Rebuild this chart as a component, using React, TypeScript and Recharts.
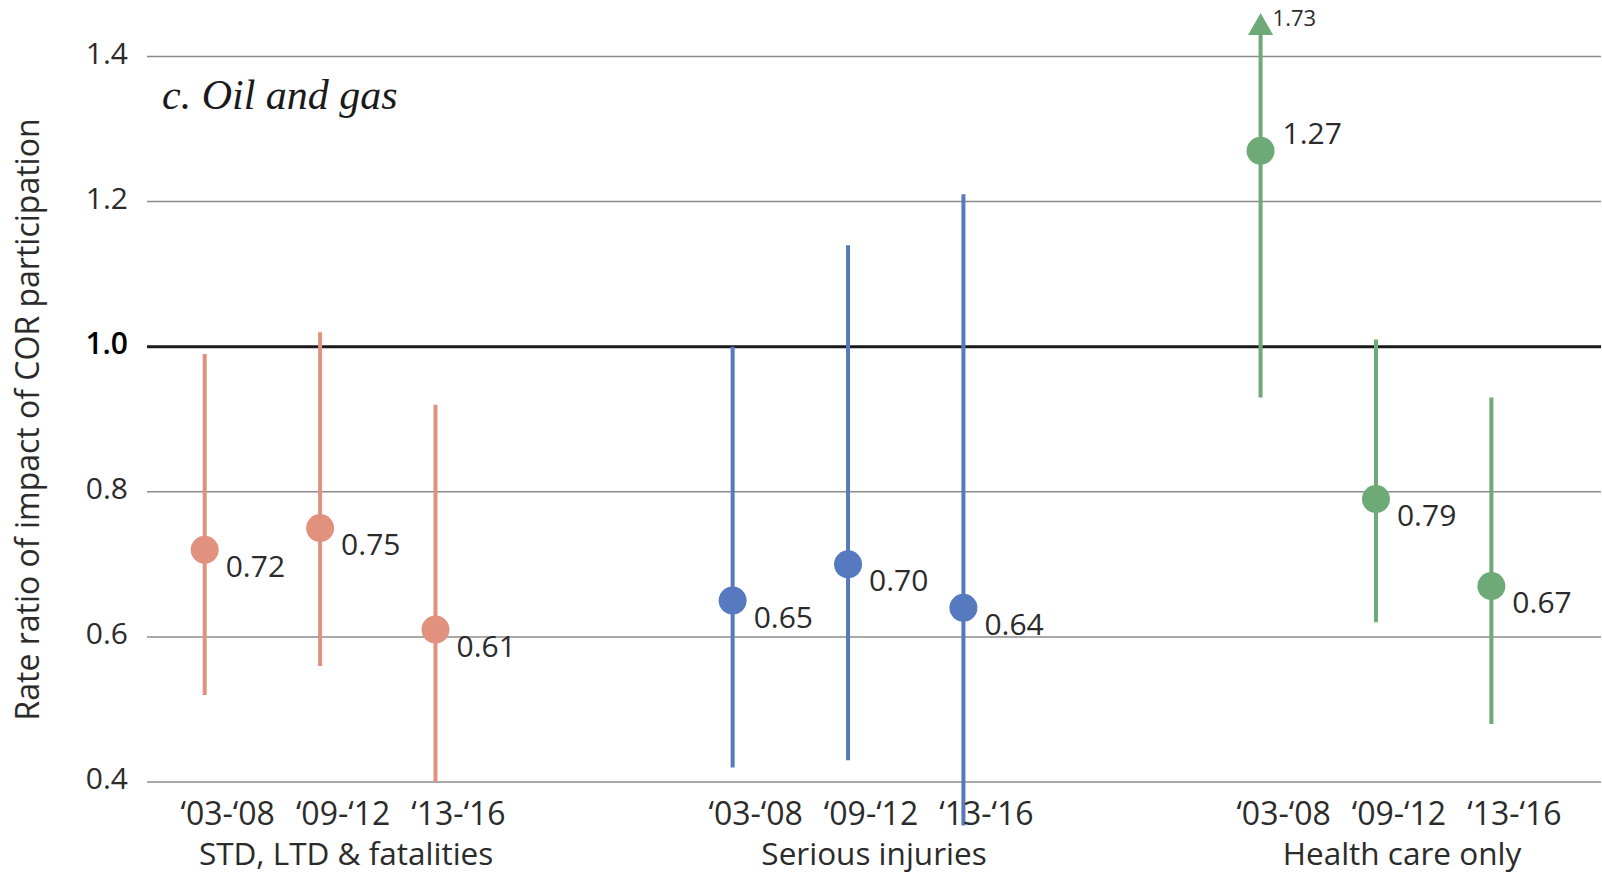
import {
  ComposedChart,
  Scatter,
  ErrorBar,
  XAxis,
  YAxis,
  CartesianGrid,
  ReferenceLine,
  ReferenceDot,
} from "recharts";

// Periods on the x axis and the three outcome groups
const periods = ["‘03-‘08", "‘09-‘12", "‘13-‘16"];
const outcomes = ["STD, LTD & fatalities", "Serious injuries", "Health care only"];

// Rate ratios with 95% CI bounds, one entry per period
const stdRate = [0.72, 0.75, 0.61];
const stdLow = [0.52, 0.56, 0.4];
const stdHigh = [0.99, 1.02, 0.92];

const seriousRate = [0.65, 0.7, 0.64];
const seriousLow = [0.42, 0.43, 0.34];
const seriousHigh = [1.0, 1.14, 1.21];

const healthRate = [1.27, 0.79, 0.67];
const healthLow = [0.93, 0.62, 0.48];
const healthHigh = [1.73, 1.01, 0.93];

const yTicks = [0.4, 0.6, 0.8, 1.0, 1.2, 1.4];

// axis extents: a bit of room below 0.4 and above 1.4 for long intervals
const Y_MIN = 0.32;
const Y_MAX = 1.46;
const GROUP_STEP = 4.575;
const X_MAX = 12.6;

const FONT = '"Open Sans", "Noto Sans", sans-serif';
const TEXT = "#2b2b2b";
const colors = ["#E2917F", "#5679BF", "#6DAA77"];

type Point = {
  x: number;
  rate: number;
  low: number;
  high: number;
  err: [number, number];
  offScale: boolean;
};

function buildSeries(group: number, rate: number[], low: number[], high: number[]): Point[] {
  return rate.map((r, i) => {
    // intervals running past the top of the axis stop at the arrowhead
    const top = Math.min(high[i], Y_MAX - 0.01);
    return {
      x: group * GROUP_STEP + i + 0.5,
      rate: r,
      low: low[i],
      high: high[i],
      err: [r - low[i], top - r],
      offScale: high[i] > Y_MAX,
    };
  });
}

const stdData = buildSeries(0, stdRate, stdLow, stdHigh);
const seriousData = buildSeries(1, seriousRate, seriousLow, seriousHigh);
const healthData = buildSeries(2, healthRate, healthLow, healthHigh);
const allPoints = [...stdData, ...seriousData, ...healthData];
const offScalePoints = allPoints.filter((d) => d.offScale);

function RateDot(props: any) {
  const { cx, cy, payload, fill } = props;
  const above = payload.offScale;
  return (
    <g>
      <circle cx={cx} cy={cy} r={14} fill={fill} />
      <text
        x={cx + (above ? 22 : 21)}
        y={cy + (above ? -7 : 27)}
        fontSize={30}
        fontFamily={FONT}
        fill={TEXT}
      >
        {payload.rate.toFixed(2)}
      </text>
    </g>
  );
}

function OffScaleArrow(props: any) {
  const { cx, cy, fill, payload } = props;
  return (
    <g>
      <path d={`M${cx},${cy} L${cx - 12.5},${cy + 22} L${cx + 12.5},${cy + 22} Z`} fill={fill} />
      <text x={cx + 12} y={cy + 13} fontSize={22} fontFamily={FONT} fill={TEXT}>
        {payload.toFixed(2)}
      </text>
    </g>
  );
}

function YTick(props: any) {
  const { x, y, payload } = props;
  const isRef = payload.value === 1;
  return (
    <text
      x={x}
      y={y + 7}
      textAnchor="end"
      fontSize={30}
      fontFamily={FONT}
      fontWeight={isRef ? 600 : 400}
      fill={isRef ? "#000" : TEXT}
    >
      {payload.value.toFixed(1)}
    </text>
  );
}

function XTick(props: any) {
  const { x, y, index } = props;
  const p = index % 3;
  const g = Math.floor(index / 3);
  return (
    <g>
      <text x={x + 23} y={y - 15} textAnchor="middle" fontSize={32} fontFamily={FONT} fill={TEXT}>
        {periods[p]}
      </text>
      {p === 1 && (
        <text x={x + 26} y={y + 25} textAnchor="middle" fontSize={31.5} fontFamily={FONT} fill={TEXT}>
          {outcomes[g]}
        </text>
      )}
    </g>
  );
}

function YTitle(props: any) {
  const { viewBox } = props;
  const bx = viewBox.x + 39;
  const cy = viewBox.y + viewBox.height / 2 - 7;
  return (
    <text
      x={bx}
      y={cy}
      transform={`rotate(-90, ${bx}, ${cy})`}
      textAnchor="middle"
      fontSize={32}
      fontFamily={FONT}
      fill={TEXT}
    >
      Rate ratio of impact of COR participation
    </text>
  );
}

export default function App() {
  return (
    <div style={{ position: "absolute", left: 0, top: 0, background: "#fff" }}>
      <ComposedChart
        width={1602}
        height={876}
        margin={{ top: 13, right: 1, bottom: 0, left: 0 }}
      >
        <CartesianGrid vertical={false} syncWithTicks stroke="#8c8c8c" strokeWidth={1.5} />
        <XAxis
          type="number"
          dataKey="x"
          domain={[0, X_MAX]}
          ticks={allPoints.map((d) => d.x)}
          interval={0}
          height={36}
          axisLine={false}
          tickLine={false}
          tickSize={0}
          tickMargin={0}
          tick={<XTick />}
        />
        <YAxis
          type="number"
          domain={[Y_MIN, Y_MAX]}
          ticks={yTicks}
          width={147}
          axisLine={false}
          tickLine={false}
          tickSize={0}
          tickMargin={19}
          tick={<YTick />}
          label={<YTitle />}
        />
        <ReferenceLine y={1} stroke="#1a1a1a" strokeWidth={3} />
        <Scatter data={stdData} dataKey="rate" fill={colors[0]} shape={<RateDot />} isAnimationActive={false}>
          <ErrorBar dataKey="err" direction="y" width={0} strokeWidth={4} stroke={colors[0]} />
        </Scatter>
        <Scatter data={seriousData} dataKey="rate" fill={colors[1]} shape={<RateDot />} isAnimationActive={false}>
          <ErrorBar dataKey="err" direction="y" width={0} strokeWidth={4} stroke={colors[1]} />
        </Scatter>
        <Scatter data={healthData} dataKey="rate" fill={colors[2]} shape={<RateDot />} isAnimationActive={false}>
          <ErrorBar dataKey="err" direction="y" width={0} strokeWidth={4} stroke={colors[2]} />
        </Scatter>
        {offScalePoints.map((d) => (
          <ReferenceDot
            key={d.x}
            x={d.x}
            y={Y_MAX}
            fill={colors[2]}
            shape={(p: any) => <OffScaleArrow {...p} payload={d.high} />}
          />
        ))}
        <text
          x={162}
          y={109}
          fontSize={42}
          fontStyle="italic"
          fontFamily='"Liberation Serif", serif'
          fill="#1a1a1a"
        >
          c. Oil and gas
        </text>
      </ComposedChart>
    </div>
  );
}
